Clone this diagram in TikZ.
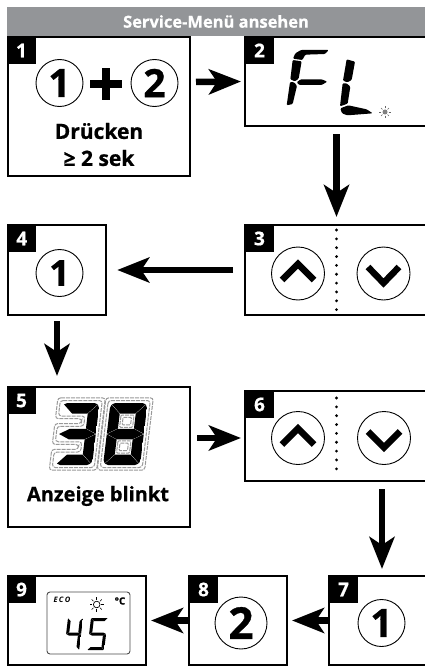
\documentclass[tikz,border=0pt]{standalone}
\usepackage{fontspec}
\setmainfont{Open Sans}[BoldFont=* Bold,BoldFeatures={FakeBold=0.7}]
\usetikzlibrary{arrows.meta}
\definecolor{headgray}{HTML}{939598}
\newcommand\dsega{\fill (\G,0) -- ({\W-\G},0) -- ({\W-\T-\G},\T) -- ({\T+\G},\T) -- cycle;}
\newcommand\dsegd{\fill (\G,\H) -- ({\W-\G},\H) -- ({\W-\T-\G},{\H-\T}) -- ({\T+\G},{\H-\T}) -- cycle;}
\newcommand\dsegb{\fill (\W,\G) -- (\W,{\M-\G}) -- ({\W-\T},{\M-\T/2-\G}) -- ({\W-\T},{\T+\G}) -- cycle;}
\newcommand\dsegc{\fill (\W,{\M+\G}) -- (\W,{\H-\G}) -- ({\W-\T},{\H-\T-\G}) -- ({\W-\T},{\M+\T/2+\G}) -- cycle;}
\newcommand\dsegf{\fill (0,\G) -- (0,{\M-\G}) -- (\T,{\M-\T/2-\G}) -- (\T,{\T+\G}) -- cycle;}
\newcommand\dsege{\fill (0,{\M+\G}) -- (0,{\H-\G}) -- (\T,{\H-\T-\G}) -- (\T,{\M+\T/2+\G}) -- cycle;}
\newcommand\dsegg{\fill (\G,\M) -- (\T,{\M-\T/2}) -- ({\W-\T},{\M-\T/2}) -- ({\W-\G},\M) -- ({\W-\T},{\M+\T/2}) -- (\T,{\M+\T/2}) -- cycle;}
% x, y, W, H, T, corner, gap, segments
\newcommand\sevenseg[8]{%
  \begin{scope}[shift={(#1,#2)},xslant=0.12]
    \def\W{#3}\def\H{#4}\def\T{#5}\def\G{#7}\pgfmathsetmacro\M{#4/2}
    \clip[rounded corners=#6pt] (0,0) rectangle (\W,\H);
    \foreach \s in {#8}{\csname dseg\s\endcsname}
  \end{scope}}
\tikzset{
  panel/.style={draw=black,line width=1.6pt,rectangle,inner sep=0pt,outer sep=0pt},
  badge/.style={fill=black,rectangle,anchor=north west,minimum width=29pt,minimum height=27pt,inner sep=0pt,outer sep=0pt,text=white,font=\bfseries\fontsize{19}{19}\selectfont},
  keyring/.style={draw=black,line width=0.9pt,circle,inner sep=0pt,outer sep=0pt,font=\bfseries},
  flow/.style={line width=6.5pt,-{Stealth[length=32pt,width=25pt,inset=8pt]}},
  divider/.style={line width=3.1pt,line cap=round,dash pattern=on 0pt off 8.85pt},
  chev/.style={line width=6.5pt,line join=miter},
  halo/.style={draw=gray!80,line width=1pt,dash pattern=on 4pt off 1pt,rounded corners=3pt},
  label/.style={font=\bfseries\fontsize{21}{21}\selectfont,inner sep=0pt}
}
\begin{document}
\begin{tikzpicture}[x=1pt,y=-1pt]
\useasboundingbox (0,0) rectangle (425,666);
\clip (0,0) rectangle (425,666);
\fill[white] (0,0) rectangle (425,666);
% header
\node[fill=headgray,rectangle,minimum width=418pt,minimum height=29pt,inner sep=0pt,text=white,font=\bfseries\fontsize{16.5}{16.5}\selectfont] (header) at (216,21.5) {Service-Menü ansehen};
% panels
\node[panel,minimum width=182pt,minimum height=139pt] (box1) at (99,106.5) {};
\node[panel,minimum width=183pt,minimum height=89pt] (box2) at (336.5,81.5) {};
\node[panel,minimum width=183pt,minimum height=90pt] (box3) at (336.5,270) {};
\node[panel,minimum width=98.5pt,minimum height=90pt] (box4) at (57,270) {};
\node[panel,minimum width=182pt,minimum height=140pt] (box5) at (99,457) {};
\node[panel,minimum width=183pt,minimum height=90pt] (box6) at (336.5,436) {};
\node[panel,minimum width=101pt,minimum height=89pt] (box7) at (379.5,620.5) {};
\node[panel,minimum width=98pt,minimum height=89pt] (box8) at (238,620.5) {};
\node[panel,minimum width=138pt,minimum height=89pt] (box9) at (77,620.5) {};
% badges
\node[badge] (b1) at ([xshift=-1pt]box1.north west) {1};
\node[badge] (b2) at (box2.north west) {2};
\node[badge] (b3) at (box3.north west) {3};
\node[badge] (b4) at ([xshift=-0.5pt]box4.north west) {4};
\node[badge] (b5) at ([xshift=-1pt]box5.north west) {5};
\node[badge] (b6) at (box6.north west) {6};
\node[badge] (b7) at (box7.north west) {7};
\node[badge] (b8) at (box8.north west) {8};
\node[badge] (b9) at ([xshift=-1pt]box9.north west) {9};
% box 1
\node[keyring,minimum size=47pt,font=\bfseries\fontsize{39}{39}\selectfont] (k1a) at (59.5,83) {1};
\node[keyring,minimum size=47pt,font=\bfseries\fontsize{39}{39}\selectfont] (k1b) at (154.5,83) {2};
\fill (90,80) rectangle (122,88);
\fill (102,68) rectangle (110,100);
\node[label] (t1) at (99,131) {Drücken};
\node[label] (t2) at (99,158) {≥ 2 sek};
% box 2 FL
\begin{scope}[shift={(270,30)},x=0.3333pt,y=-0.3333pt,rounded corners=1pt]
  \fill (69,86) -- (76,70) -- (93,60) -- (176,60) -- (165,72) -- (106,74) -- (97,90) -- cycle;
  \fill (68,90) -- (95,94) -- (86,146) -- (75,154) -- (61,148) -- cycle;
  \fill (80,157) -- (92,148) -- (155,148) -- (172,155) -- (155,165) -- (88,165) -- cycle;
  \fill (60,156) -- (72,157) -- (81,167) -- (68,222) -- (50,226) -- cycle;
  \fill (230,88) -- (255,95) -- (245,150) -- (232,157) -- (219,152) -- cycle;
  \fill (218,160) -- (230,160) -- (241,170) -- (233,221) -- (210,229) -- cycle;
  \fill (211,235) -- (235,226) -- (290,238) -- (308,250) -- (232,256) -- (216,250) -- cycle;
\end{scope}
\fill[gray] (385,112) circle (2.5);
\foreach \a in {0,45,...,315}{\draw[gray!80!black,line width=0.5pt] (385,112) ++(\a:3.6) -- ++(\a:2);}
% up/down keys
\node[keyring,minimum size=53pt] (k3a) at (298,273.5) {};
\node[keyring,minimum size=53pt] (k3b) at (383.5,273.5) {};
\draw[chev] (282,280) -- (298,264) -- (314,280);
\draw[chev] (368,267) -- (383.5,283) -- (399,267);
\draw[divider] ([yshift=-5pt]box3.north) -- ([yshift=4pt]box3.south);
\node[keyring,minimum size=53pt] (k6a) at (298,438) {};
\node[keyring,minimum size=53pt] (k6b) at (384,438) {};
\draw[chev] (282,444.5) -- (298,428.5) -- (314,444.5);
\draw[chev] (368,431.5) -- (384,447.5) -- (400,431.5);
\draw[divider] ([yshift=-7pt]box6.north) -- ([yshift=4pt]box6.south);
% box 4, 7, 8
\node[keyring,minimum size=47pt,font=\bfseries\fontsize{36}{36}\selectfont] (k4) at (59.5,273) {1};
\node[keyring,minimum size=47pt,font=\bfseries\fontsize{39}{39}\selectfont] (k7) at (381.5,623) {1};
\node[keyring,minimum size=52pt,font=\bfseries\fontsize{44}{44}\selectfont] (k8) at (241,623) {2};
% box 5 : 38
\begin{scope}[shift={(62.5,403)},xslant=0.12]
  \def\W{37}\def\H{62}\def\T{10.5}\def\M{31}
  \foreach \d in {2.5,5.2}{
    \draw[halo] ({-\d},{-\d}) -- ({\W+\d},{-\d}) -- ({\W+\d},{\H+\d}) -- ({-\d},{\H+\d}) -- ({-\d},{\H-\T-\d}) -- ({\W-\T-\d},{\H-\T-\d}) -- ({\W-\T-\d},{\M+\T/2+\d}) -- ({-\d},{\M+\T/2+\d}) -- ({-\d},{\M-\T/2-\d}) -- ({\W-\T-\d},{\M-\T/2-\d}) -- ({\W-\T-\d},{\T+\d}) -- ({-\d},{\T+\d}) -- cycle;
  }
\end{scope}
\begin{scope}[shift={(110.5,403)},xslant=0.12]
  \def\W{37}\def\H{62}\def\T{10.5}\def\M{31}
  \foreach \d in {2.5,5.2}{
    \draw[halo] ({-\d},{-\d}) rectangle ({\W+\d},{\H+\d});
  }
  \foreach \d in {1.5,3.8}{
    \draw[halo,rounded corners=1pt] ({\T+\d},{\T+\d}) rectangle ({\W-\T-\d},{\M-\T/2-\d});
    \draw[halo,rounded corners=1pt] ({\T+\d},{\M+\T/2+\d}) rectangle ({\W-\T-\d},{\H-\T-\d});
  }
\end{scope}
\sevenseg{62.5}{403}{37}{62}{10.5}{5}{0.3}{a,b,c,d,g}
\sevenseg{110.5}{403}{37}{62}{10.5}{5}{0.3}{a,b,c,d,e,f,g}
\node[label,font=\bfseries\fontsize{20}{20}\selectfont] (t3) at (98,496) {Anzeige blinkt};
% box 9 display
\node[draw=black!70,line width=0.9pt,rectangle,rounded corners=3pt,minimum width=83pt,minimum height=62pt,inner sep=0pt] (lcd) at (88.5,623) {};
\node[inner sep=0pt,font=\bfseries\itshape\fontsize{7.5}{7.5}\selectfont] (eco) at (62,600) {E\,C\,O};
\node[inner sep=0pt,font=\bfseries\fontsize{10}{10}\selectfont] (unit) at (120,601) {°C};
\draw[black,line width=0.7pt] (96.7,604.5) circle (3.3);
\foreach \a in {0,45,...,315}{\draw[black,line width=0.5pt] (96.7,604.5) ++(\a:4.6) -- ++(\a:2.6);}
\sevenseg{68}{618}{15}{32}{3}{1}{0.15}{f,g,b,c}
\sevenseg{91}{618}{17}{32}{3}{1}{0.15}{a,f,g,c,d}
% connectors
\draw[flow] ([xshift=6pt,yshift=24.5pt]box1.east) -- ([xshift=-4pt]box2.west);
\draw[flow] ([yshift=-8pt]box2.south) -- ([yshift=8pt]box3.north);
\draw[flow] ([xshift=-12pt]box3.west) -- ([xshift=11pt]box4.east);
\draw[flow] ([yshift=-6pt]box4.south) -- ([xshift=-42pt,yshift=11pt]box5.north);
\draw[flow] ([xshift=7pt,yshift=19pt]box5.east) -- ([xshift=-4pt,yshift=-2pt]box6.west);
\draw[flow] ([xshift=45.5pt,yshift=-8pt]box6.south) -- ([xshift=2.5pt,yshift=7pt]box7.north);
\draw[flow] (box7.west) -- ([xshift=5pt]box8.east);
\draw[flow] (box8.west) -- ([xshift=5pt]box9.east);
\end{tikzpicture}
\end{document}
